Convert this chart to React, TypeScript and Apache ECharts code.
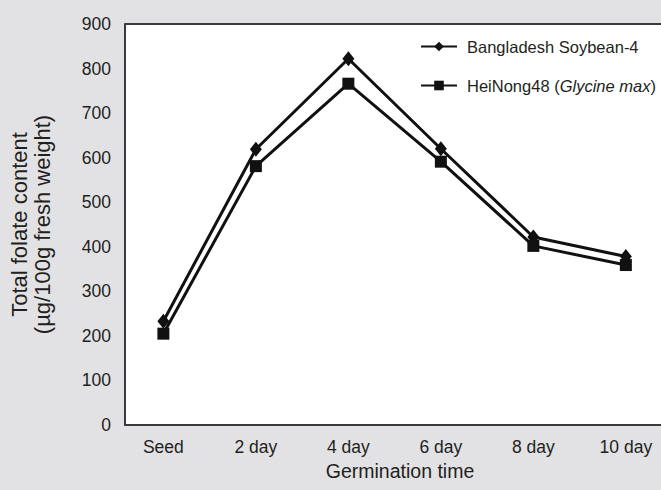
import React, { useEffect, useRef } from "react";
import * as echarts from "echarts";

const categories = ["Seed", "2 day", "4 day", "6 day", "8 day", "10 day"];
const bangladesh = [233, 619, 822, 620, 422, 378];
const heinong = [205, 581, 766, 591, 402, 359];
const seriesNames = ["Bangladesh Soybean-4", "HeiNong48 (Glycine max)"];
const yTicks = [0, 100, 200, 300, 400, 500, 600, 700, 800, 900];

const FONT = "'Liberation Sans', Arial, sans-serif";
const TXT = "#231f20";

export default function App() {
  const ref = useRef<HTMLDivElement>(null);
  useEffect(() => {
    if (!ref.current) return;
    const chart = echarts.init(ref.current, null, { renderer: "svg" });
    const idx = categories.map((_, i) => i);
    chart.setOption({
      animation: false,
      backgroundColor: "#e2e2e4",
      textStyle: { fontFamily: FONT, color: TXT },
      grid: {
        left: 125,
        top: 24,
        right: 0,
        bottom: 65,
        show: true,
        backgroundColor: "#ffffff",
        borderWidth: 0,
      },
      legend: {
        orient: "vertical",
        left: 420,
        top: 38,
        padding: 0,
        itemWidth: 36,
        itemHeight: 12,
        itemGap: 22,
        data: seriesNames,
        textStyle: {
          fontFamily: FONT,
          fontSize: 16.5,
          color: TXT,
          padding: [0, 0, 0, 5],
          rich: {
            n: { fontFamily: FONT, fontSize: 16.5, color: TXT },
            i: { fontFamily: FONT, fontSize: 16.5, color: TXT, fontStyle: "italic" },
          },
        },
        formatter: (name: string) =>
          name.startsWith("HeiNong48")
            ? "{n|HeiNong48 (}{i|Glycine max}{n|)}"
            : "{n|" + name + "}",
      },
      xAxis: {
        type: "value",
        min: -0.415,
        max: 5.38,
        name: "Germination time",
        nameLocation: "middle",
        nameGap: 36,
        nameTextStyle: {
          fontFamily: FONT,
          fontSize: 19.5,
          color: TXT,
          padding: [0, 0, 0, 14],
        },
        axisLine: { show: true, onZero: false, lineStyle: { color: "#3a3a3a", width: 2 } },
        axisTick: { show: false },
        splitLine: { show: false },
        axisLabel: {
          customValues: idx,
          formatter: (v: number) => categories[Math.round(v)] ?? "",
          margin: 13,
          fontFamily: FONT,
          fontSize: 17.5,
          color: TXT,
        },
      },
      yAxis: {
        type: "value",
        min: 0,
        max: 900,
        interval: 100,
        name: "Total folate content\n(µg/100g fresh weight)",
        nameLocation: "middle",
        nameGap: 71,
        nameTextStyle: { fontFamily: FONT, fontSize: 22, color: TXT, lineHeight: 23 },
        axisLine: { show: true, onZero: false, lineStyle: { color: "#3a3a3a", width: 2 } },
        axisTick: { show: false },
        splitLine: { show: false },
        axisLabel: {
          margin: 14,
          fontFamily: FONT,
          fontSize: 17.5,
          color: TXT,
          formatter: (v: number) => (yTicks.includes(v) ? String(v) : ""),
        },
      },
      graphic: [
        {
          type: "line",
          shape: { x1: 125, y1: 24, x2: 661, y2: 24 },
          style: { stroke: "#3a3a3a", lineWidth: 2 },
          z: 10,
        },
      ],
      series: [
        {
          name: seriesNames[0],
          type: "line",
          data: bangladesh.map((v, i) => [i, v]),
          symbol: "diamond",
          symbolSize: [12, 15],
          lineStyle: { color: "#111", width: 3 },
          itemStyle: { color: "#111" },
          z: 3,
        },
        {
          name: seriesNames[1],
          type: "line",
          data: heinong.map((v, i) => [i, v]),
          symbol: "rect",
          symbolSize: 12,
          lineStyle: { color: "#111", width: 3 },
          itemStyle: { color: "#111" },
          z: 2,
        },
      ],
    });
    return () => chart.dispose();
  }, []);
  return (
    <div
      ref={ref}
      style={{ position: "fixed", left: 0, top: 0, width: 661, height: 490 }}
    />
  );
}
